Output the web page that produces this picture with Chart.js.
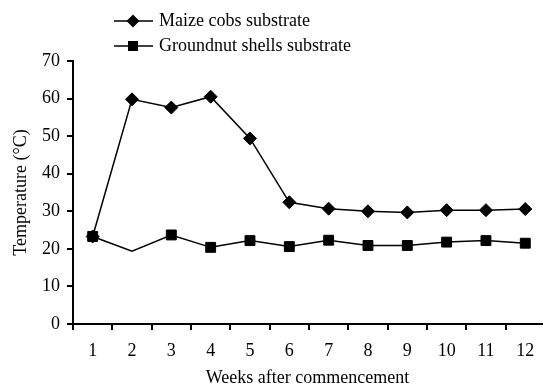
<!DOCTYPE html>
<html>
<head>
<meta charset="utf-8">
<script src="https://cdn.jsdelivr.net/npm/chart.js@4"></script>
<style>
  body { margin: 0; background: #fff; }
  #chart { display: block; }
</style>
</head>
<body>
<canvas id="chart" width="550" height="385"></canvas>
<script>
// weeks after commencement
const weeks = [1, 2, 3, 4, 5, 6, 7, 8, 9, 10, 11, 12];

// temperature (°C)
const maizeCobs = [23.3, 59.8, 57.6, 60.5, 49.4, 32.4, 30.7, 30.0, 29.7, 30.3, 30.3, 30.6];
const groundnutShells = [23.3, 19.4, 23.7, 20.4, 22.2, 20.6, 22.3, 20.9, 20.9, 21.8, 22.2, 21.5];

const yTicks = [0, 10, 20, 30, 40, 50, 60, 70];

const seriesNames = ['Maize cobs substrate', 'Groundnut shells substrate'];

const fontFamily = "'Liberation Serif', 'Times New Roman', serif";

// legend drawn by hand: line with marker in the middle, two rows
const legendPlugin = {
  id: 'lineLegend',
  afterDraw(chart) {
    const ctx = chart.ctx;
    const rows = [
      { text: seriesNames[0], y: 21, style: 'diamond' },
      { text: seriesNames[1], y: 46, style: 'square' }
    ];
    ctx.save();
    ctx.font = '18px ' + fontFamily;
    ctx.textBaseline = 'middle';
    rows.forEach(row => {
      ctx.strokeStyle = '#000';
      ctx.lineWidth = 1.5;
      ctx.beginPath();
      ctx.moveTo(114, row.y);
      ctx.lineTo(153, row.y);
      ctx.stroke();

      ctx.fillStyle = '#000';
      ctx.beginPath();
      if (row.style === 'diamond') {
        const r = 6.5;
        ctx.moveTo(133 - r, row.y);
        ctx.lineTo(133, row.y - r);
        ctx.lineTo(133 + r, row.y);
        ctx.lineTo(133, row.y + r);
        ctx.closePath();
      } else {
        ctx.rect(133 - 5, row.y - 5, 10, 10);
      }
      ctx.fill();

      ctx.fillText(row.text, 159, row.y);
    });
    ctx.restore();
  }
};

const ctx = document.getElementById('chart').getContext('2d');
const chart = new Chart(ctx, {
  type: 'line',
  data: {
    datasets: [
      {
        label: seriesNames[0],
        data: maizeCobs.map((v, i) => ({ x: weeks[i], y: v })),
        borderColor: '#000',
        backgroundColor: '#000',
        borderWidth: 1.5,
        pointStyle: 'rectRot',
        pointRadius: 6.5,
        pointBorderWidth: 1,
        tension: 0
      },
      {
        label: seriesNames[1],
        data: groundnutShells.map((v, i) => ({ x: weeks[i], y: v })),
        borderColor: '#000',
        backgroundColor: '#000',
        borderWidth: 1.5,
        pointStyle: 'rect',
        // week 2 has no marker in the figure
        pointRadius: weeks.map(w => (w === 2 ? 0 : 7)),
        pointBorderWidth: 1,
        tension: 0
      }
    ]
  },
  options: {
    responsive: false,
    animation: false,
    layout: { padding: { top: 61, left: 0, right: 0, bottom: 0 } },
    plugins: {
      legend: { display: false },
      tooltip: { enabled: false }
    },
    scales: {
      x: {
        type: 'linear',
        bounds: 'data',
        min: 0.5,
        max: 12.425,
        afterBuildTicks: scale => {
          scale.ticks = weeks.map(w => ({ value: w }));
        },
        afterFit: scale => { scale.height = 61; },
        border: { display: true, color: '#000', width: 2 },
        grid: {
          offset: true,
          drawOnChartArea: false,
          drawTicks: true,
          tickLength: 6,
          color: '#000',
          lineWidth: 2
        },
        ticks: {
          color: '#000',
          padding: 10,
          maxRotation: 0,
          autoSkip: false,
          font: { family: fontFamily, size: 18 }
        },
        title: {
          display: true,
          text: 'Weeks after commencement',
          color: '#000',
          font: { family: fontFamily, size: 18, lineHeight: 1 },
          padding: { top: 0, bottom: -2 }
        }
      },
      y: {
        min: 0,
        max: 70,
        afterBuildTicks: scale => {
          scale.ticks = yTicks.map(v => ({ value: v }));
        },
        afterFit: scale => { scale.width = 73; },
        border: { display: true, color: '#000', width: 2 },
        grid: {
          drawOnChartArea: false,
          drawTicks: true,
          tickLength: 6,
          color: '#000',
          lineWidth: 2
        },
        ticks: {
          color: '#000',
          padding: 7,
          font: { family: fontFamily, size: 18 }
        },
        title: {
          display: true,
          text: 'Temperature (°C)',
          color: '#000',
          font: { family: fontFamily, size: 18, lineHeight: 1 },
          padding: { top: 12, bottom: 0 }
        }
      }
    }
  },
  plugins: [legendPlugin]
});
</script>
</body>
</html>
